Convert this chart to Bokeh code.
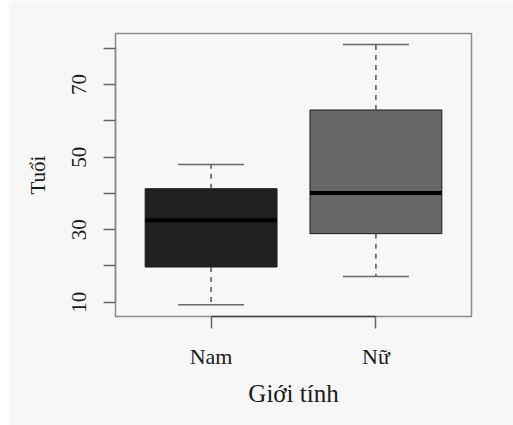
from bokeh.plotting import figure
from bokeh.models import Range1d, FixedTicker, Spacer
from bokeh.layouts import row
from bokeh.embed import file_html
from bokeh.resources import INLINE

# ---- data ----
categories = ["Nam", "Nữ"]
q1 = [19.7, 28.9]
median = [32.6, 40.1]
q3 = [41.3, 63.0]
whisker_low = [9.3, 17.1]
whisker_high = [48.0, 81.1]
y_major_ticks = [10, 30, 50, 70]
y_minor_ticks = [20, 40, 60, 80]

xs = [i + 1 for i in range(len(categories))]

BG = "#f7f7f7"
FONT = "Liberation Serif"

p = figure(
    width=505, height=425,
    x_range=Range1d(0.42, 2.58), y_range=Range1d(6.05, 84.1),
    output_backend="svg", toolbar_location=None,
    min_border_left=107, min_border_right=42,
    min_border_top=33, min_border_bottom=109,
)
p.background_fill_color = BG
p.border_fill_color = BG
p.outline_line_color = "#8a8a8a"
p.outline_line_width = 1.5
p.grid.visible = False

# boxes
p.vbar(x=xs, width=0.8, bottom=q1, top=q3,
       fill_color=["#202020", "#676767"], line_color="#1a1a1a", line_width=1)
# medians
p.segment(x0=[x - 0.4 for x in xs], y0=median, x1=[x + 0.4 for x in xs], y1=median,
          line_color="#000000", line_width=4)
# whiskers
p.segment(x0=xs, y0=q3, x1=xs, y1=whisker_high,
          line_color="#555555", line_width=1.5, line_dash="5 5")
p.segment(x0=xs, y0=q1, x1=xs, y1=whisker_low,
          line_color="#555555", line_width=1.5, line_dash="5 5")
# caps
p.segment(x0=[x - 0.2 for x in xs], y0=whisker_high, x1=[x + 0.2 for x in xs], y1=whisker_high,
          line_color="#666666", line_width=1.5)
p.segment(x0=[x - 0.2 for x in xs], y0=whisker_low, x1=[x + 0.2 for x in xs], y1=whisker_low,
          line_color="#666666", line_width=1.5)

# x axis
xa = p.xaxis[0]
xa.ticker = FixedTicker(ticks=xs)
xa.major_label_overrides = {x: c for x, c in zip(xs, categories)}
xa.bounds = (xs[0], xs[-1])
xa.axis_line_color = "#444444"
xa.axis_line_width = 1.5
xa.major_tick_line_color = "#666666"
xa.major_tick_line_width = 1.5
xa.major_tick_in = 0
xa.major_tick_out = 12
xa.minor_tick_line_color = None
xa.major_label_standoff = 15
xa.major_label_text_font = FONT
xa.major_label_text_font_size = "22px"
xa.major_label_text_color = "#1a1a1a"
xa.axis_label = "Giới tính"
xa.axis_label_text_font = FONT
xa.axis_label_text_font_style = "normal"
xa.axis_label_text_font_size = "25px"
xa.axis_label_text_color = "#1a1a1a"
xa.axis_label_standoff = 8

# y axis
ya = p.yaxis[0]
ya.ticker = FixedTicker(ticks=y_major_ticks, minor_ticks=y_minor_ticks)
ya.bounds = (y_major_ticks[0], y_minor_ticks[-1])
ya.axis_line_color = "#8a8a8a"
ya.axis_line_width = 1.5
ya.major_tick_line_color = "#666666"
ya.major_tick_line_width = 1.5
ya.major_tick_in = 0
ya.major_tick_out = 12
ya.minor_tick_line_color = "#666666"
ya.minor_tick_line_width = 1.5
ya.minor_tick_in = 0
ya.minor_tick_out = 12
ya.major_label_orientation = "vertical"
ya.major_label_standoff = 17
ya.major_label_text_font = FONT
ya.major_label_text_font_size = "21px"
ya.major_label_text_color = "#1a1a1a"
ya.axis_label = "Tuổi"
ya.axis_label_text_font = FONT
ya.axis_label_text_font_style = "normal"
ya.axis_label_text_font_size = "21px"
ya.axis_label_text_color = "#1a1a1a"
ya.axis_label_standoff = 20

layout = row(Spacer(width=8, height=425), p)
open("out.html", "w").write(file_html(layout, INLINE))
